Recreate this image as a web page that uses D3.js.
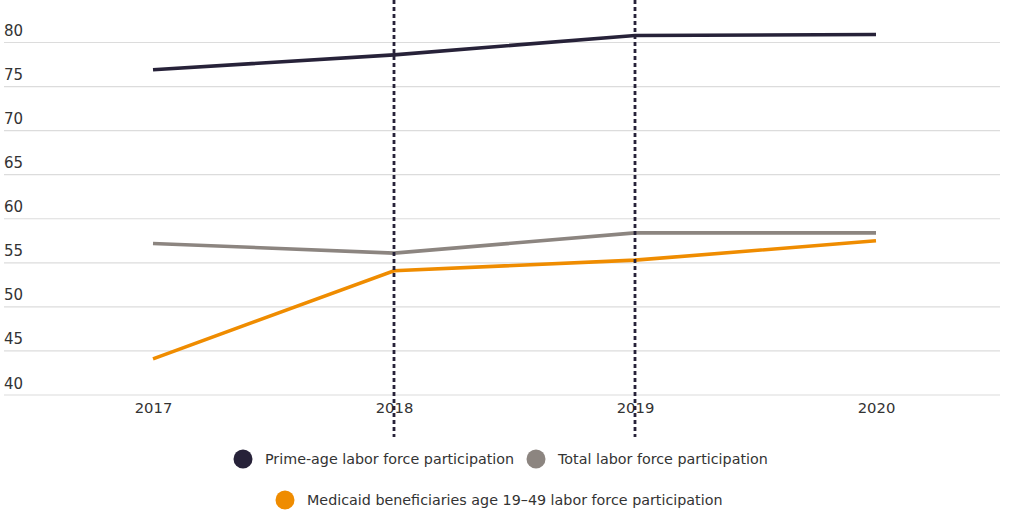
<!DOCTYPE html>
<html>
<head>
<meta charset="utf-8">
<script src="https://cdn.jsdelivr.net/npm/d3@7"></script>
<style>
  body { margin: 0; background: #fff; }
  svg { display: block; font-family: "DejaVu Sans", sans-serif; }
</style>
</head>
<body>
<svg id="chart" width="1024" height="512"></svg>
<script>
const years = [2017, 2018, 2019, 2020];
const primeAge = [76.9, 78.6, 80.8, 80.9];
const totalLabor = [57.2, 56.1, 58.4, 58.4];
const medicaid = [44.1, 54.1, 55.3, 57.5];
const yTicks = [40, 45, 50, 55, 60, 65, 70, 75, 80];
const markerYears = [2018, 2019];

const seriesNames = [
    "Prime-age labor force participation",
    "Total labor force participation",
    "Medicaid beneficiaries age 19\u201349 labor force participation"
];
const seriesColors = ["#272239", "#8c8580", "#ef8c00"];

const svg = d3.select("#chart");

const xScale = d3.scaleLinear().domain([2017, 2020]).range([153, 876]);
const yScale = d3.scaleLinear().domain([40, 80]).range([395, 42.5]);

// gridlines with labels sitting above them
const grid = svg.append("g");
yTicks.forEach(t => {
    grid.append("line")
        .attr("x1", 4).attr("x2", 1000)
        .attr("y1", yScale(t)).attr("y2", yScale(t))
        .attr("stroke", "#dcdcdc")
        .attr("stroke-width", 1.2);
    grid.append("text")
        .attr("x", 4)
        .attr("y", yScale(t) - 6.5)
        .attr("font-size", 15)
        .attr("fill", "#333")
        .text(t);
});

// year labels
svg.append("g")
    .attr("transform", "translate(0, 413)")
    .call(d3.axisBottom(xScale).tickValues(years).tickFormat(d3.format("d")).tickSize(0))
    .call(g => g.select(".domain").remove())
    .selectAll("text")
    .attr("dy", 0)
    .attr("y", 0)
    .attr("font-size", 14.8)
    .attr("font-family", "DejaVu Sans, sans-serif")
    .attr("fill", "#333");

// lines
const line = d3.line()
    .x((d, i) => xScale(years[i]))
    .y(d => yScale(d));

[[totalLabor, 1], [medicaid, 2], [primeAge, 0]].forEach(([vals, idx]) => {
    svg.append("path")
        .datum(vals)
        .attr("fill", "none")
        .attr("stroke", seriesColors[idx])
        .attr("stroke-width", 3.6)
        .attr("d", line);
});

// dashed markers
markerYears.forEach(y => {
    svg.append("line")
        .attr("x1", xScale(y)).attr("x2", xScale(y))
        .attr("y1", 0).attr("y2", 437)
        .attr("stroke", "#272239")
        .attr("stroke-width", 2.8)
        .attr("stroke-dasharray", "4,3");
});

// legend
const legendPos = [
    { cx: 243, cy: 459 },
    { cx: 536, cy: 459 },
    { cx: 285, cy: 500 }
];
seriesNames.forEach((name, i) => {
    const p = legendPos[i];
    svg.append("circle")
        .attr("cx", p.cx).attr("cy", p.cy)
        .attr("r", 9.5)
        .attr("fill", seriesColors[i]);
    svg.append("text")
        .attr("x", p.cx + 22)
        .attr("y", p.cy + 5)
        .attr("font-size", 14.3)
        .attr("fill", "#333")
        .text(name);
});
</script>
</body>
</html>
